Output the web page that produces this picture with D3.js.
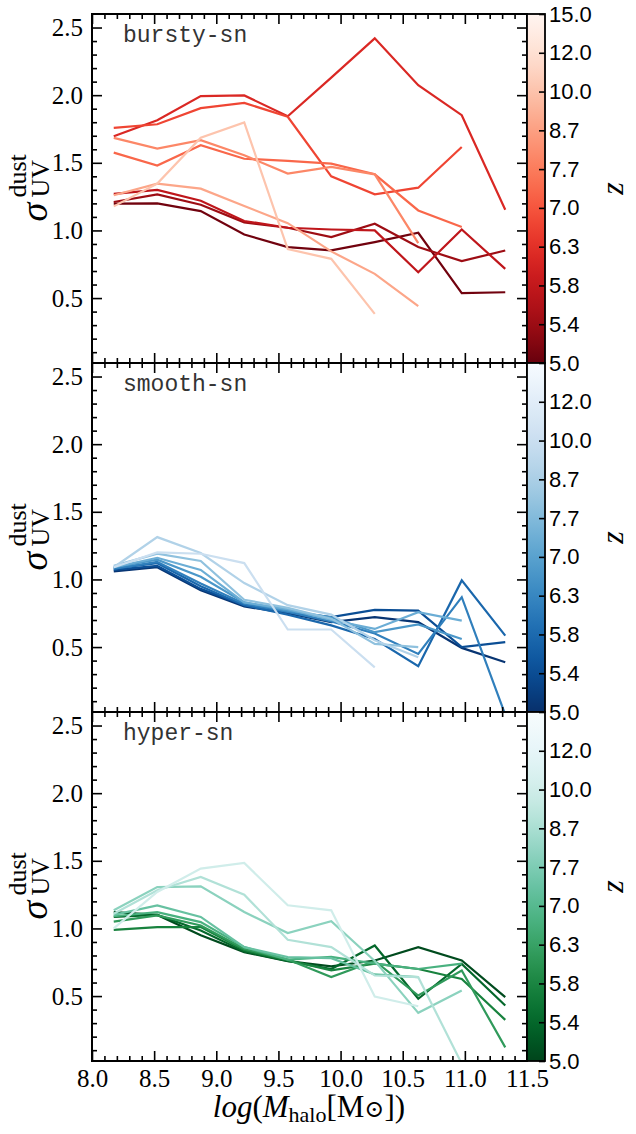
<!DOCTYPE html>
<html>
<head>
<meta charset="utf-8">
<script src="https://cdn.jsdelivr.net/npm/d3@7"></script>
<style>
  body { margin: 0; background: #fff; }
  text { fill: #000; }
</style>
</head>
<body>
<svg id="chart" width="636" height="1134"></svg>
<script>
// halo mass bin centres, log(M_halo)
const massBins = [8.175, 8.525, 8.875, 9.225, 9.575, 9.925, 10.275, 10.625, 10.975, 11.325];
// redshift of each curve (dark -> light)
const redshifts = [5.0, 5.4, 5.8, 6.3, 7.0, 7.7, 8.7, 10.0, 12.0];

// sigma_UV^dust per redshift, null = no haloes in that bin
const burstySigma = [
    [1.198, 1.20, 1.143, 0.97, 0.877, 0.852, 0.914, 0.983, 0.536, 0.543],
    [1.21, 1.267, 1.19, 1.06, 1.02, 0.951, 1.049, 0.877, 0.773, 0.852],
    [1.27, 1.30, 1.22, 1.07, 1.02, 1.007, 1.0, 0.691, 1.007, 0.716],
    [1.696, 1.815, 1.993, 1.998, 1.844, 2.13, 2.42, 2.074, 1.852, 1.153],
    [1.758, 1.785, 1.904, 1.943, 1.84, 1.40, 1.267, 1.316, 1.617, null],
    [1.575, 1.48, 1.63, 1.53, 1.514, 1.494, 1.415, 1.148, 1.025, null],
    [1.684, 1.605, 1.667, 1.556, 1.42, 1.47, 1.415, 0.906, null, null],
    [1.26, 1.346, 1.309, 1.18, 1.054, 0.845, 0.679, 0.44, null, null],
    [1.178, 1.346, 1.686, 1.798, 0.862, 0.79, 0.383, null, null, null]
];
const smoothSigma = [
    [1.06, 1.09, 0.92, 0.80, 0.75, 0.684, 0.721, 0.684, 0.494, 0.388],
    [1.07, 1.10, 0.93, 0.81, 0.76, 0.721, 0.775, 0.77, 0.499, 0.536],
    [1.08, 1.12, 0.95, 0.81, 0.74, 0.66, 0.56, 0.358, 0.993, 0.585],
    [1.08, 1.13, 0.97, 0.82, 0.76, 0.69, 0.60, 0.449, 0.869, 0.0],
    [1.09, 1.146, 1.02, 0.83, 0.77, 0.72, 0.61, 0.667, 0.56, null],
    [1.09, 1.16, 1.07, 0.83, 0.78, 0.70, 0.634, 0.758, 0.696, null],
    [1.10, 1.19, 1.136, 0.85, 0.79, 0.71, 0.523, 0.499, null, null],
    [1.09, 1.313, 1.195, 0.973, 0.81, 0.74, 0.55, 0.425, null, null],
    [1.09, 1.20, 1.19, 1.121, 0.63, 0.63, 0.35, null, null, null]
];
const hyperSigma = [
    [1.12, 1.10, 0.95, 0.825, 0.758, 0.72, 0.763, 0.862, 0.763, 0.492],
    [1.085, 1.10, 0.985, 0.83, 0.76, 0.70, 0.874, 0.48, 0.738, 0.43],
    [0.99, 1.01, 1.01, 0.84, 0.765, 0.69, 0.74, 0.70, 0.627, 0.324],
    [1.05, 1.097, 1.022, 0.85, 0.77, 0.64, 0.76, 0.504, 0.689, 0.121],
    [1.09, 1.121, 1.047, 0.862, 0.77, 0.79, 0.74, 0.70, 0.74, null],
    [1.10, 1.17, 1.085, 0.862, 0.788, 0.78, 0.66, 0.64, null, null],
    [1.134, 1.306, 1.311, 1.121, 0.966, 1.054, 0.76, 0.376, 0.541, null],
    [1.109, 1.282, 1.38, 1.25, 0.916, 0.862, 0.652, 0.64, 0.0, null],
    [1.00, 1.27, 1.442, 1.484, 1.171, 1.134, 0.497, 0.425, null, null]
];

const xTicks = [8.0, 8.5, 9.0, 9.5, 10.0, 10.5, 11.0, 11.5];
const yTicks = [0.5, 1.0, 1.5, 2.0, 2.5];
const zTickLabels = ["5.0", "5.4", "5.8", "6.3", "7.0", "7.7", "8.7", "10.0", "12.0", "15.0"];
const panelNames = ["bursty-sn", "smooth-sn", "hyper-sn"];

const panels = [
    { name: panelNames[0], data: burstySigma, cmap: d3.interpolateReds },
    { name: panelNames[1], data: smoothSigma, cmap: d3.interpolateBlues },
    { name: panelNames[2], data: hyperSigma, cmap: d3.interpolateBuGn }
];

const left = 92, right = 527, top0 = 14, panelH = 349, cbarW = 18;
const serif = "'Liberation Serif', 'DejaVu Serif', serif";
const sans = "'Liberation Sans', Arial, sans-serif";

const svg = d3.select("#chart");
const x = d3.scaleLinear().domain([8.0, 11.5]).range([left, right]);
// colour position of each curve along the colormap
const colorT = d3.scaleLinear().domain([0, redshifts.length - 1]).range([0.98, 0.22]);

panels.forEach((p, i) => {
    const top = top0 + i * panelH;
    const bottom = top + panelH;
    const y = d3.scaleLinear().domain([0.02, 2.6]).range([bottom, top]);
    const g = svg.append("g");

    // clip
    const clipId = "clip" + i;
    svg.append("clipPath").attr("id", clipId)
        .append("rect").attr("x", left).attr("y", top)
        .attr("width", right - left).attr("height", panelH);

    const line = d3.line()
        .defined(d => d.v != null)
        .x(d => x(d.m))
        .y(d => y(d.v));

    g.append("g").attr("clip-path", `url(#${clipId})`)
        .selectAll("path")
        .data(p.data.map((row, k) => ({ k, pts: row.map((v, j) => ({ m: massBins[j], v })) })))
        .join("path")
        .attr("d", d => line(d.pts))
        .attr("fill", "none")
        .attr("stroke", d => p.cmap(colorT(d.k)))
        .attr("stroke-width", 2.2)
        .attr("stroke-linejoin", "miter");

    // axes with inward ticks on all sides
    const minorX = d3.range(8.1, 11.45, 0.1).filter(v => Math.abs(v * 2 - Math.round(v * 2)) > 0.01);
    const minorY = d3.range(0.1, 2.6, 0.1).filter(v => Math.abs(v * 2 - Math.round(v * 2)) > 0.01);

    const axes = [
        [d3.axisLeft(y).tickValues(yTicks).tickSize(-10).tickPadding(9).tickFormat(d3.format(".1f")), `translate(${left},0)`],
        [d3.axisLeft(y).tickValues(minorY).tickSize(-5).tickFormat(""), `translate(${left},0)`],
        [d3.axisRight(y).tickValues(yTicks).tickSize(-10).tickFormat(""), `translate(${right},0)`],
        [d3.axisRight(y).tickValues(minorY).tickSize(-5).tickFormat(""), `translate(${right},0)`],
        [d3.axisTop(x).tickValues(xTicks).tickSize(-10).tickFormat(""), `translate(0,${top})`],
        [d3.axisTop(x).tickValues(minorX).tickSize(-5).tickFormat(""), `translate(0,${top})`],
        [d3.axisBottom(x).tickValues(xTicks).tickSize(-10).tickPadding(8)
            .tickFormat(i === 2 ? d3.format(".1f") : ""), `translate(0,${bottom})`],
        [d3.axisBottom(x).tickValues(minorX).tickSize(-5).tickFormat(""), `translate(0,${bottom})`]
    ];
    axes.forEach(([ax, tr]) => {
        const a = g.append("g").attr("transform", tr).call(ax.tickSizeOuter(0));
        a.attr("font-family", null).attr("font-size", null);
        a.select(".domain").remove();
        a.selectAll(".tick line").attr("stroke", "#000").attr("stroke-width", 1.6);
        a.selectAll("text")
            .style("font-family", serif).style("font-size", "25px").attr("fill", "#000");
    });

    g.append("rect").attr("x", left).attr("y", top)
        .attr("width", right - left).attr("height", panelH)
        .attr("fill", "none").attr("stroke", "#000").attr("stroke-width", 2);

    // panel label
    g.append("text").attr("x", 123).attr("y", top + 28)
        .style("font-family", "'Liberation Mono', 'DejaVu Sans Mono', monospace")
        .style("font-size", "23px").style("fill", "#333")
        .text(p.name);

    // y label sigma^dust_UV
    const yl = g.append("g").attr("transform", `translate(47,${(top + bottom) / 2}) rotate(-90)`)
        .style("font-family", serif);
    yl.append("text").attr("x", -33).attr("y", 0).style("font-size", "38px")
        .style("font-style", "italic").text("σ");
    yl.append("text").attr("x", -9).attr("y", -21).style("font-size", "26px").text("dust");
    yl.append("text").attr("x", -9).attr("y", 2).style("font-size", "26px").text("UV");

    // colorbar
    const gradId = "grad" + i;
    const grad = svg.append("defs").append("linearGradient").attr("id", gradId)
        .attr("x1", 0).attr("y1", 1).attr("x2", 0).attr("y2", 0);
    d3.range(0, 1.0001, 0.05).forEach(t => {
        grad.append("stop").attr("offset", t).attr("stop-color", p.cmap(1 - t));
    });
    g.append("rect").attr("x", right).attr("y", top)
        .attr("width", cbarW).attr("height", panelH)
        .attr("fill", `url(#${gradId})`);

    const cb = d3.scaleLinear().domain([0, zTickLabels.length - 1]).range([bottom, top]);
    const cbAxis = d3.axisRight(cb)
        .tickValues(d3.range(zTickLabels.length))
        .tickSize(-6).tickPadding(4).tickSizeOuter(0)
        .tickFormat(k => (i > 0 && k === zTickLabels.length - 1) ? "" : zTickLabels[k]);
    const cba = g.append("g").attr("transform", `translate(${right + cbarW},0)`).call(cbAxis);
    cba.select(".domain").remove();
    cba.selectAll(".tick line").attr("stroke", "#000").attr("stroke-width", 1.6);
    cba.selectAll("text").style("font-family", sans).style("font-size", "22px").attr("fill", "#000");

    g.append("rect").attr("x", right).attr("y", top)
        .attr("width", cbarW).attr("height", panelH)
        .attr("fill", "none").attr("stroke", "#000").attr("stroke-width", 1.8);

    g.append("text")
        .attr("transform", `translate(623,${(top + bottom) / 2}) rotate(-90)`)
        .attr("text-anchor", "middle")
        .style("font-family", serif).style("font-style", "italic").style("font-size", "32px")
        .text("z");
});

// x label
const xl = svg.append("text")
    .attr("x", 309).attr("y", 1117)
    .attr("text-anchor", "middle")
    .style("font-family", serif).style("font-size", "31px");
xl.append("tspan").style("font-style", "italic").text("log");
xl.append("tspan").text("(");
xl.append("tspan").style("font-style", "italic").text("M");
xl.append("tspan").style("font-size", "22px").attr("dy", 5).text("halo");
xl.append("tspan").attr("dy", -5).text("[M");
xl.append("tspan").style("font-family", "'DejaVu Serif', serif").style("font-size", "24px").text("⊙");
xl.append("tspan").text("])");
</script>
</body>
</html>
